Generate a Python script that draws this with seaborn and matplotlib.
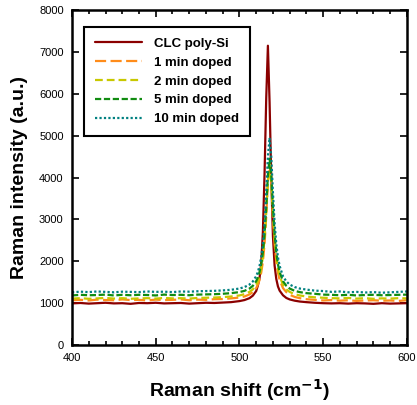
import matplotlib
matplotlib.use('Agg')
import matplotlib.pyplot as plt
import seaborn as sns
from matplotlib.ticker import MultipleLocator

sns.set_style('ticks')
plt.rcParams['font.family'] = ['Liberation Sans', 'DejaVu Sans']
plt.rcParams.update({'axes.edgecolor': 'black', 'text.color': 'black', 'axes.labelcolor': 'black',
                     'xtick.color': 'black', 'ytick.color': 'black'})

# Raman shift grid (cm-1), denser around the Si peak
shift = [400, 405, 410, 415, 420, 425, 430, 435, 440, 445, 450, 455, 460, 465, 470,
         475, 480, 485, 490, 495, 500, 503, 506, 508, 510, 511, 512, 513, 514, 515,
         516, 517, 518, 519, 520, 521, 522, 523, 524, 526, 528, 530, 533, 536, 540,
         545, 550, 555, 560, 565, 570, 575, 580, 585, 590, 595, 600]

clc = [995, 1005, 990, 1000, 1010, 995, 1000, 985, 1005, 1000, 1010, 995, 1000, 1005, 990,
       1000, 1010, 1005, 1015, 1025, 1050, 1075, 1120, 1180, 1290, 1420, 1600, 1950, 2700, 4100,
       5900, 7150, 5800, 4000, 2600, 1900, 1580, 1400, 1300, 1190, 1125, 1090, 1060, 1040, 1025,
       1010, 1000, 995, 1000, 990, 1000, 995, 985, 1000, 990, 995, 1000]

min1 = [1070, 1080, 1065, 1085, 1075, 1070, 1090, 1075, 1080, 1065, 1085, 1075, 1080, 1090, 1070,
        1085, 1080, 1095, 1100, 1115, 1135, 1160, 1210, 1265, 1360, 1440, 1555, 1730, 1990, 2410,
        3070, 3900, 4350, 3900, 3070, 2410, 1990, 1730, 1555, 1360, 1265, 1200, 1150, 1120, 1095,
        1080, 1065, 1075, 1060, 1070, 1055, 1065, 1070, 1060, 1065, 1055, 1070]

min2 = [1110, 1120, 1105, 1115, 1125, 1110, 1120, 1105, 1115, 1120, 1110, 1125, 1115, 1120, 1110,
        1125, 1130, 1135, 1145, 1160, 1185, 1215, 1270, 1330, 1440, 1525, 1650, 1835, 2110, 2540,
        3170, 3915, 4300, 3915, 3170, 2540, 2110, 1835, 1650, 1440, 1330, 1270, 1215, 1185, 1160,
        1140, 1130, 1120, 1115, 1125, 1110, 1120, 1105, 1115, 1110, 1120, 1115]

min5 = [1185, 1200, 1190, 1195, 1205, 1185, 1200, 1190, 1200, 1195, 1185, 1205, 1195, 1200, 1190,
        1205, 1210, 1215, 1225, 1240, 1265, 1295, 1350, 1415, 1525, 1615, 1745, 1930, 2215, 2650,
        3295, 4055, 4450, 4055, 3295, 2650, 2215, 1930, 1745, 1525, 1415, 1350, 1295, 1265, 1240,
        1225, 1205, 1200, 1190, 1200, 1185, 1195, 1200, 1190, 1195, 1200, 1205]

min10 = [1260, 1275, 1265, 1280, 1270, 1260, 1275, 1270, 1265, 1280, 1270, 1275, 1265, 1280, 1275,
         1285, 1290, 1295, 1305, 1320, 1350, 1385, 1445, 1520, 1645, 1745, 1890, 2100, 2420, 2915,
         3645, 4505, 4950, 4505, 3645, 2915, 2420, 2100, 1890, 1645, 1520, 1445, 1385, 1350, 1325,
         1300, 1290, 1270, 1280, 1260, 1270, 1255, 1265, 1250, 1260, 1270, 1280]

labels = ['CLC poly-Si', '1 min doped', '2 min doped', '5 min doped', '10 min doped']
colors = ['#8b0000', '#ff8c1a', '#c8c800', '#118c11', '#008080']
styles = ['-', (0, (5, 2)), (0, (3.5, 1.8)), (0, (2.8, 1.2)), (0, (1, 1))]

fig = plt.figure(figsize=(4.17, 4.05), dpi=100)
ax = fig.add_axes([0.1727, 0.148, 0.803, 0.827])

for vals, lab, col, ls in zip([clc, min1, min2, min5, min10], labels, colors, styles):
    sns.lineplot(x=shift, y=vals, color=col, linestyle=ls, linewidth=1.6, label=lab, ax=ax)

ax.set_xlim(400, 600)
ax.set_ylim(0, 8000)
ax.xaxis.set_major_locator(MultipleLocator(50))
ax.xaxis.set_minor_locator(MultipleLocator(10))
ax.yaxis.set_major_locator(MultipleLocator(1000))
ax.tick_params(which='both', direction='in', top=True, right=True, width=1.2, labelsize=8)
ax.tick_params(which='major', length=5, pad=6)
ax.tick_params(which='minor', length=3)
for sp in ax.spines.values():
    sp.set_linewidth(1.8)

ax.set_xlabel('Raman shift (cm$^{\\mathbf{-1}}$)', fontsize=14, fontweight='bold', labelpad=10)
ax.set_ylabel('Raman intensity (a.u.)', fontsize=14, fontweight='bold', labelpad=8)

leg = ax.legend(loc='upper left', bbox_to_anchor=(0.036, 0.949), borderaxespad=0,
                frameon=True, fancybox=False, framealpha=1, edgecolor='black',
                prop={'weight': 'bold', 'size': 9.5}, handlelength=3.6, handletextpad=0.9,
                labelspacing=0.5, borderpad=0.8)
leg.get_frame().set_linewidth(1.5)

fig.savefig('out.png', dpi=100)
